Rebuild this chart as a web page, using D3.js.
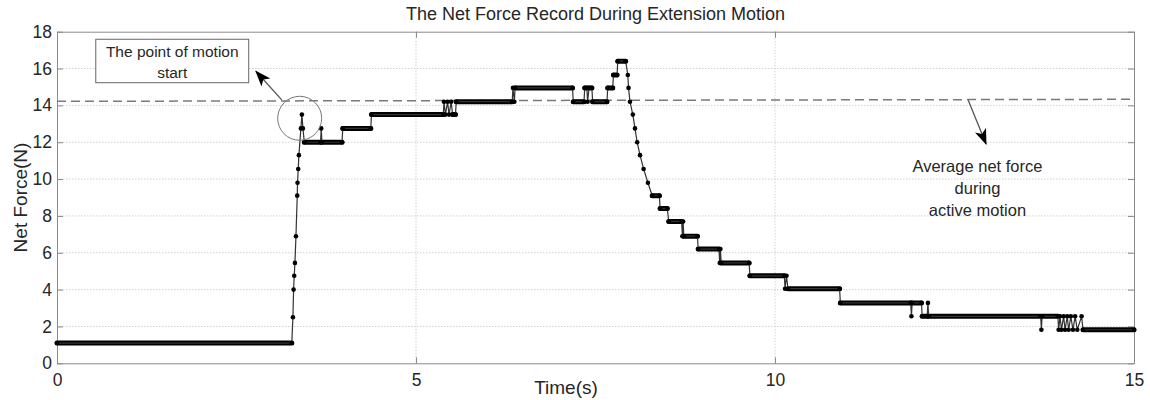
<!DOCTYPE html>
<html>
<head>
<meta charset="utf-8">
<script src="https://cdn.jsdelivr.net/npm/d3@7"></script>
<style>
	body { margin: 0; background: #fff; }
	text { font-family: "Liberation Sans", Arial, sans-serif; fill: #262626; }
	.grid line { stroke: #d0d0d0; stroke-dasharray: 1.5,1.5; }
</style>
</head>
<body>
<svg id="chart" width="1150" height="400"></svg>
<script>
// tick labels
var xTicks = [0, 5, 10, 15];
var yTicks = [0, 2, 4, 6, 8, 10, 12, 14, 16, 18];

// net force record, [time (s), force (N)]
var forcePoints = [
	[0, 1.1], [3.27, 1.1],
	[3.286, 2.5], [3.295, 4.0], [3.304, 4.75], [3.314, 5.45], [3.328, 6.9],
	[3.346, 9.1], [3.35, 9.8], [3.36, 10.55], [3.369, 11.3], [3.397, 12.75],
	[3.411, 13.5], [3.425, 12.75], [3.445, 12.0],
	[3.67, 12.0], [3.68, 12.75], [3.69, 12.0], [3.97, 12.0],
	[3.98, 12.75], [4.37, 12.75], [4.38, 13.5], [5.38, 13.5],
	[5.39, 14.2], [5.41, 13.5], [5.44, 14.2], [5.46, 13.5], [5.49, 14.2],
	[5.51, 13.5], [5.55, 13.5], [5.56, 14.2], [6.34, 14.2],
	[6.35, 14.95], [6.37, 14.2], [6.38, 14.95], [7.18, 14.95],
	[7.19, 14.2], [7.34, 14.2], [7.35, 14.95], [7.38, 14.95], [7.39, 14.2],
	[7.41, 14.95], [7.45, 14.95], [7.46, 14.2], [7.66, 14.2],
	[7.67, 14.95], [7.74, 14.95], [7.75, 15.65], [7.80, 15.65],
	[7.81, 16.4], [7.92, 16.4],
	[7.95, 15.65], [7.96, 14.95], [7.98, 14.2], [8.02, 13.5], [8.05, 12.75],
	[8.08, 12.0], [8.12, 11.3], [8.17, 10.55], [8.23, 9.8],
	[8.29, 9.1], [8.39, 9.1], [8.40, 8.4], [8.50, 8.4],
	[8.52, 7.7], [8.70, 7.7], [8.71, 6.9], [8.72, 7.7], [8.73, 6.9], [8.92, 6.9],
	[8.93, 6.2], [9.22, 6.2], [9.23, 5.45], [9.24, 6.2], [9.25, 5.45], [9.64, 5.45],
	[9.65, 4.75], [10.13, 4.75], [10.14, 4.05], [10.16, 4.75], [10.18, 4.05], [10.90, 4.05],
	[10.91, 3.28], [11.89, 3.28], [11.90, 2.55], [11.91, 3.28], [12.04, 3.28],
	[12.05, 2.55], [12.12, 2.55], [12.13, 3.28], [12.14, 2.55], [13.70, 2.55],
	[13.71, 1.82], [13.72, 2.55], [13.94, 2.55],
	[13.95, 1.82], [13.97, 2.55], [13.99, 1.82], [14.02, 2.55], [14.04, 1.82],
	[14.07, 2.55], [14.09, 1.82], [14.12, 2.55], [14.15, 1.82], [14.18, 2.55],
	[14.21, 1.82], [14.27, 2.55], [14.29, 1.82], [15, 1.82]
];

// average net force during active motion (dashed reference line)
var avgLine = [[0, 14.22], [15, 14.33]];

var width = 1150, height = 400;
var margin = { top: 31.7, right: 16, bottom: 36.7, left: 57 };

var svg = d3.select('#chart');

var x = d3.scaleLinear().domain([0, 15]).range([margin.left, width - margin.right]);
var y = d3.scaleLinear().domain([0, 18]).range([height - margin.bottom, margin.top]);

// grid
var grid = svg.append('g').attr('class', 'grid');
grid.selectAll('.hg').data(yTicks.slice(1, -1)).enter().append('line')
	.attr('x1', x(0)).attr('x2', x(15))
	.attr('y1', function(d) { return y(d); })
	.attr('y2', function(d) { return y(d); });
grid.selectAll('.vg').data(xTicks.slice(1, -1)).enter().append('line')
	.attr('y1', y(0)).attr('y2', y(18))
	.attr('x1', function(d) { return x(d); })
	.attr('x2', function(d) { return x(d); });

// axes, MATLAB style: ticks inward, box on
var axisColor = '#8a8a8a';
function styleAxis(g) {
	g.select('.domain').attr('stroke', axisColor);
	g.selectAll('.tick line').attr('stroke', axisColor);
	g.selectAll('.tick text').attr('font-size', 17.5).attr('fill', '#262626')
		.attr('font-family', '"Liberation Sans", Arial, sans-serif');
}

svg.append('g').attr('transform', 'translate(0,' + y(0) + ')')
	.call(d3.axisBottom(x).tickValues(xTicks).tickSizeInner(-6).tickSizeOuter(0).tickPadding(10))
	.call(styleAxis);
svg.append('g').attr('transform', 'translate(0,' + y(18) + ')')
	.call(d3.axisTop(x).tickValues(xTicks).tickSizeInner(-6).tickSizeOuter(0).tickFormat(''))
	.call(styleAxis);
svg.append('g').attr('transform', 'translate(' + x(0) + ',0)')
	.call(d3.axisLeft(y).tickValues(yTicks).tickSizeInner(-6).tickSizeOuter(0).tickPadding(5))
	.call(styleAxis);
svg.append('g').attr('transform', 'translate(' + x(15) + ',0)')
	.call(d3.axisRight(y).tickValues(yTicks).tickSizeInner(-6).tickSizeOuter(0).tickFormat(''))
	.call(styleAxis);

// average line
svg.append('line')
	.attr('x1', x(avgLine[0][0])).attr('y1', y(avgLine[0][1]))
	.attr('x2', x(avgLine[1][0])).attr('y2', y(avgLine[1][1]))
	.attr('stroke', '#7a7a7a').attr('stroke-width', 1.5).attr('stroke-dasharray', '9,5');

// plateaus: consecutive samples at the same level form a dense band of markers
var plateaus = [];
for (var i = 0; i < forcePoints.length - 1; i++) {
	var a = forcePoints[i], b = forcePoints[i + 1];
	if (a[1] === b[1]) plateaus.push([a, b]);
}
svg.append('g').selectAll('line').data(plateaus).enter().append('line')
	.attr('x1', function(d) { return x(d[0][0]); })
	.attr('x2', function(d) { return x(d[1][0]); })
	.attr('y1', function(d) { return y(d[0][1]); })
	.attr('y2', function(d) { return y(d[1][1]); })
	.attr('stroke', '#000').attr('stroke-width', 5).attr('stroke-linecap', 'round');

var line = d3.line()
	.x(function(d) { return x(d[0]); })
	.y(function(d) { return y(d[1]); });

svg.append('path').datum(forcePoints)
	.attr('d', line)
	.attr('fill', 'none').attr('stroke', '#333').attr('stroke-width', 1.2);

svg.append('g').selectAll('circle').data(forcePoints).enter().append('circle')
	.attr('cx', function(d) { return x(d[0]); })
	.attr('cy', function(d) { return y(d[1]); })
	.attr('r', 2.3).attr('fill', '#000');

// arrow heads
var defs = svg.append('defs');
defs.append('marker')
	.attr('id', 'head')
	.attr('viewBox', '0 0 16 12')
	.attr('refX', 15).attr('refY', 6)
	.attr('markerWidth', 16).attr('markerHeight', 12)
	.attr('markerUnits', 'userSpaceOnUse')
	.attr('orient', 'auto')
	.append('path').attr('d', 'M0,0 L16,6 L0,12 L4,6 Z').attr('fill', '#000');

// annotation: point of motion start
svg.append('circle')
	.attr('cx', x(3.38)).attr('cy', y(13.3)).attr('r', 22)
	.attr('fill', 'none').attr('stroke', '#777').attr('stroke-width', 1);

svg.append('line')
	.attr('x1', x(3.13)).attr('y1', y(14.3))
	.attr('x2', x(2.77)).attr('y2', y(15.85))
	.attr('stroke', '#555').attr('stroke-width', 1.3)
	.attr('marker-end', 'url(#head)');

svg.append('rect')
	.attr('x', x(0.54)).attr('y', y(17.59))
	.attr('width', x(2.67) - x(0.54)).attr('height', y(15.23) - y(17.59))
	.attr('fill', '#fff').attr('stroke', '#666').attr('stroke-width', 1);

var boxText = svg.append('text')
	.attr('text-anchor', 'middle').attr('font-size', 15.5);
boxText.append('tspan').attr('x', x(1.605)).attr('y', y(16.62)).text('The point of motion');
boxText.append('tspan').attr('x', x(1.605)).attr('y', y(15.46)).text('start');

// annotation: average net force
svg.append('line')
	.attr('x1', x(12.69)).attr('y1', y(14.29))
	.attr('x2', x(12.94)).attr('y2', y(11.9))
	.attr('stroke', '#555').attr('stroke-width', 1.3)
	.attr('marker-end', 'url(#head)');

var avgText = svg.append('text')
	.attr('text-anchor', 'middle').attr('font-size', 16.5);
avgText.append('tspan').attr('x', x(12.82)).attr('y', y(10.4)).text('Average net force');
avgText.append('tspan').attr('x', x(12.82)).attr('y', y(9.2)).text('during');
avgText.append('tspan').attr('x', x(12.82)).attr('y', y(8.0)).text('active motion');

// titles
svg.append('text')
	.attr('x', (margin.left + width - margin.right) / 2).attr('y', 20)
	.attr('text-anchor', 'middle').attr('font-size', 18)
	.text('The Net Force Record During Extension Motion');

svg.append('text')
	.attr('x', 566).attr('y', 394)
	.attr('text-anchor', 'middle').attr('font-size', 19)
	.text('Time(s)');

svg.append('text')
	.attr('transform', 'translate(27,' + y(9) + ') rotate(-90)')
	.attr('text-anchor', 'middle').attr('font-size', 19)
	.text('Net Force(N)');
</script>
</body>
</html>
